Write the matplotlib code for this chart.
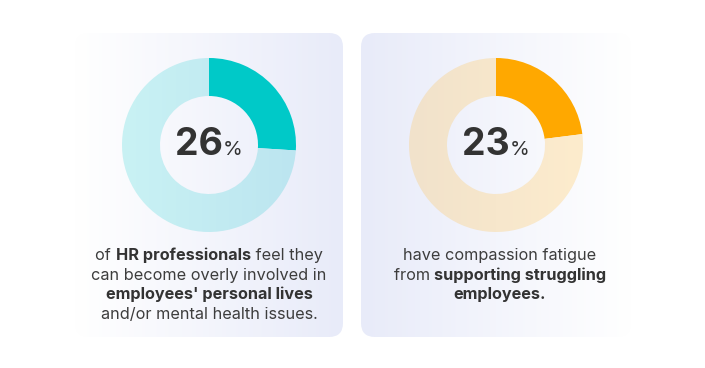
import numpy as np
import matplotlib.pyplot as plt
from matplotlib.patches import FancyBboxPatch
from matplotlib.colors import LinearSegmentedColormap

plt.rcParams['font.family'] = ['Inter', 'DejaVu Sans']

# data
share_left = [26, 74]
share_right = [23, 77]
labels_big = ['26', '23']
caption_left = [
    [('of ', 'normal'), ('HR professionals', 'bold'), (' feel they', 'normal')],
    [('can become overly involved in', 'normal')],
    [("employees' personal lives", 'bold')],
    [('and/or mental health issues.', 'normal')],
]
caption_right = [
    [('have compassion fatigue', 'normal')],
    [('from ', 'normal'), ('supporting struggling', 'bold')],
    [('employees.', 'bold')],
]

W, H = 705, 368
fig = plt.figure(figsize=(W / 100, H / 100), dpi=100)
ax = fig.add_axes([0, 0, 1, 1])
ax.set_xlim(0, W)
ax.set_ylim(0, H)
ax.axis('off')

TXT = '#333333'
TXT_LIGHT = '#3d3d3d'


def Y(y):
    # pixel row from top -> data y
    return H - y


def gradient_patch(patch, x0, x1, y0, y1, c_left, c_right):
    cmap = LinearSegmentedColormap.from_list('g', [c_left, c_right])
    grad = np.linspace(0, 1, 256).reshape(1, -1)
    im = ax.imshow(grad, cmap=cmap, extent=(x0, x1, y0, y1), aspect='auto',
                   interpolation='bicubic', zorder=patch.get_zorder())
    im.set_clip_path(patch)


# cards (outer side fades to white)
cards = [
    (75, 343, '#FFFFFF', '#E8EBF9'),
    (361, 631, '#E8EBF9', '#FFFFFF'),
]
for x0, x1, cl, cr in cards:
    box = FancyBboxPatch((x0, Y(337)), x1 - x0, 304,
                         boxstyle='round,pad=0,rounding_size=14',
                         facecolor='none', edgecolor='none', zorder=1)
    ax.add_patch(box)
    gradient_patch(box, x0, x1, Y(337), Y(33), cl, cr)

# donuts
donuts = [
    (209, share_left, '#00C9C8', '#C9F2F4', '#BCE5F0', labels_big[0]),
    (496, share_right, '#FFA800', '#F1E2CB', '#FDECCD', labels_big[1]),
]
cy = 145
R = 87
for cx, vals, c_hi, c_lo1, c_lo2, big in donuts:
    wedges, _ = ax.pie(vals, center=(cx, Y(cy)), radius=R, startangle=90,
                       counterclock=False, colors=[c_hi, 'none'],
                       wedgeprops=dict(width=38, linewidth=0), frame=True)
    for w in wedges:
        w.set_zorder(3)
    gradient_patch(wedges[1], cx - R, cx + R, Y(cy) - R, Y(cy) + R, c_lo1, c_lo2)
    wedges[1].set_zorder(2)

    # center number
    t1 = ax.text(0, 0, big, fontsize=27, fontweight='bold', color=TXT,
                 va='baseline', ha='left', zorder=5)
    t2 = ax.text(0, 0, '%', fontsize=14.5, color=TXT, va='baseline',
                 ha='left', zorder=5)
    fig.canvas.draw()
    r = fig.canvas.get_renderer()
    w1 = t1.get_window_extent(r).width
    w2 = t2.get_window_extent(r).width
    start = cx - (w1 + w2) / 2
    t1.set_position((start, Y(155)))
    t2.set_position((start + w1, Y(155)))

ax.set_xlim(0, W)
ax.set_ylim(0, H)
ax.set_aspect('auto')


def rich_lines(lines, cx, y_first, step):
    r = fig.canvas.get_renderer()
    for i, parts in enumerate(lines):
        items = []
        for s, wt in parts:
            col = TXT if wt == 'bold' else TXT_LIGHT
            t = ax.text(0, 0, s, fontsize=11.7, fontweight=wt, color=col,
                        va='baseline', ha='left', zorder=5)
            items.append(t)
        fig.canvas.draw()
        widths = [t.get_window_extent(r).width for t in items]
        x = cx - sum(widths) / 2
        for t, w in zip(items, widths):
            t.set_position((x, Y(y_first + i * step)))
            x += w


rich_lines(caption_left, 209, 260, 19.7)
rich_lines(caption_right, 500, 260, 19.7)

fig.savefig('out.png', dpi=100, facecolor='white')
